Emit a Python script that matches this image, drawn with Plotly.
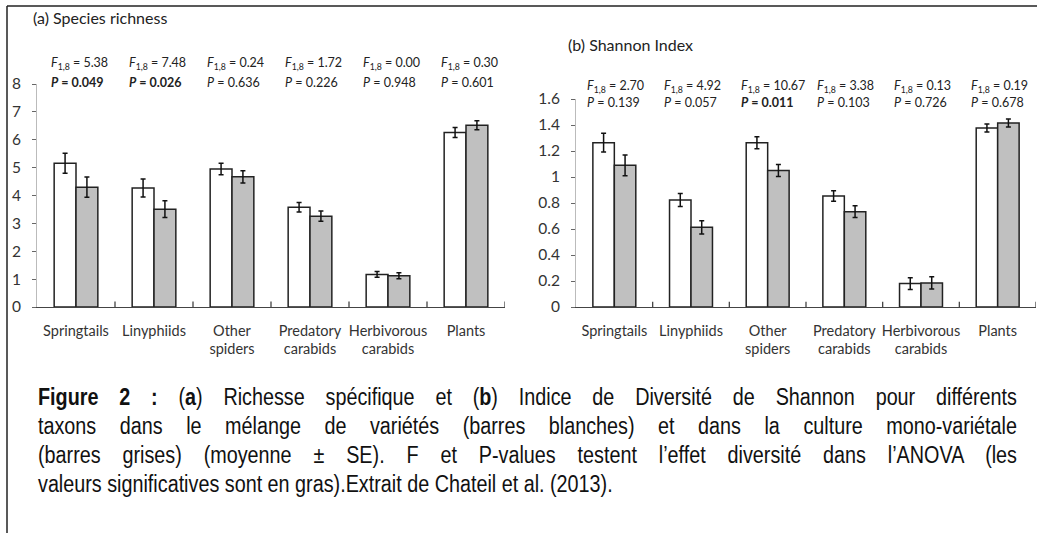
import plotly.graph_objects as go

categories = ["Springtails", "Linyphiids", "Other<br>spiders", "Predatory<br>carabids",
              "Herbivorous<br>carabids", "Plants"]

rich_mix = [5.16, 4.27, 4.95, 3.58, 1.17, 6.26]
rich_mix_se = [0.36, 0.32, 0.21, 0.17, 0.10, 0.18]
rich_mono = [4.30, 3.51, 4.67, 3.26, 1.12, 6.52]
rich_mono_se = [0.36, 0.30, 0.22, 0.18, 0.11, 0.16]

shan_mix = [1.264, 0.823, 1.264, 0.854, 0.180, 1.377]
shan_mix_se = [0.072, 0.050, 0.046, 0.041, 0.045, 0.031]
shan_mono = [1.090, 0.613, 1.050, 0.733, 0.185, 1.415]
shan_mono_se = [0.080, 0.051, 0.046, 0.045, 0.047, 0.031]

rich_F = ["5.38", "7.48", "0.24", "1.72", "0.00", "0.30"]
rich_P = ["0.049", "0.026", "0.636", "0.226", "0.948", "0.601"]
rich_sig = [True, True, False, False, False, False]
shan_F = ["2.70", "4.92", "10.67", "3.38", "0.13", "0.19"]
shan_P = ["0.139", "0.057", "0.011", "0.103", "0.726", "0.678"]
shan_sig = [False, False, True, False, False, False]

rich_ticks = [0, 1, 2, 3, 4, 5, 6, 7, 8]
shan_ticks = [0, 0.2, 0.4, 0.6, 0.8, 1.0, 1.2, 1.4, 1.6]
shan_ticktext = ["0", "0.2", "0.4", "0.6", "0.8", "1", "1.2", "1.4", "1.6"]

caption_lines = [
    "<b>Figure 2 :</b> (<b>a</b>) Richesse spécifique et (<b>b</b>) Indice de Diversité de Shannon pour différents",
    "taxons dans le mélange de variétés (barres blanches) et dans la culture mono-variétale",
    "(barres grises) (moyenne ± SE). F et P-values testent l’effet diversité dans l’ANOVA (les",
    "valeurs significatives sont en gras).Extrait de Chateil et al. (2013).",
]
caption_justified = [True, True, True, False]

W, H = 1037, 533
FONT = "Lato, Open Sans, sans-serif"
CAPFONT = "Liberation Sans Narrow, Arial Narrow, Liberation Sans, Arial, sans-serif"
xidx = list(range(len(categories)))

fig = go.Figure()


def add_bars(vals, se, fill, xa, ya):
    fig.add_trace(go.Bar(
        x=xidx, y=vals, xaxis=xa, yaxis=ya,
        marker=dict(color=fill, line=dict(color="#222222", width=1.5)),
        error_y=dict(type="data", array=se, color="#111111", thickness=1.5, width=2.5),
        showlegend=False, hoverinfo="skip",
    ))


add_bars(rich_mix, rich_mix_se, "white", "x", "y")
add_bars(rich_mono, rich_mono_se, "#c0c0c0", "x", "y")
add_bars(shan_mix, shan_mix_se, "white", "x2", "y2")
add_bars(shan_mono, shan_mono_se, "#c0c0c0", "x2", "y2")


def px_y(py):
    return 1 - py / H


def px_x(px):
    return px / W


xcommon = dict(
    tickmode="array", tickvals=xidx, ticktext=categories,
    range=[-0.5, len(categories) - 0.5],
    showline=True, linecolor="#444444", linewidth=1.3,
    ticks="", showgrid=False, zeroline=False, automargin=False,
    tickfont=dict(family=FONT, size=14.5, color="#333333"),
    ticklabelstandoff=10,
)
ycommon = dict(
    ticks="outside", ticklen=4, tickcolor="#666666",
    showline=True, linecolor="#bbbbbb", linewidth=1, showgrid=False, zeroline=False,
    automargin=False,
    tickfont=dict(family=FONT, size=15.5, color="#333333"), ticklabelstandoff=8,
)
fig.update_layout(
    width=W, height=H,
    margin=dict(l=0, r=0, t=0, b=0, autoexpand=False),
    paper_bgcolor="white", plot_bgcolor="white",
    barmode="group", bargap=0.44, bargroupgap=0,
    xaxis=dict(domain=[px_x(37), px_x(505)], anchor="y", **xcommon),
    xaxis2=dict(domain=[px_x(576), px_x(1036)], anchor="y2", **xcommon),
    yaxis=dict(domain=[px_y(307), px_y(84)], range=[0, 8], anchor="x",
               tickvals=rich_ticks, **ycommon),
    yaxis2=dict(domain=[px_y(307), px_y(99)], range=[0, 1.6], anchor="x2",
                tickvals=shan_ticks, ticktext=shan_ticktext, **ycommon),
)

# category separator ticks on the x axes
for xa, ya in (("x", "y"), ("x2", "y2")):
    for i in range(1, len(categories) + 1):
        fig.add_shape(type="line", xref=xa, yref=ya + " domain",
                      x0=i - 0.5, x1=i - 0.5, y0=0, y1=0.025,
                      line=dict(color="#444444", width=1.3))

ann = []
ann.append(dict(text="(a) Species richness", x=px_x(31), y=px_y(17), xref="paper", yref="paper",
                xanchor="left", yanchor="middle", showarrow=False,
                font=dict(family=FONT, size=16, color="#222222")))
ann.append(dict(text="(b) Shannon Index", x=px_x(566), y=px_y(45), xref="paper", yref="paper",
                xanchor="left", yanchor="middle", showarrow=False,
                font=dict(family=FONT, size=16, color="#222222")))


def stats(Fs, Ps, sig, xa, off, yF, yP):
    for i in range(len(Fs)):
        ann.append(dict(text="<i>F</i><sub>1,8</sub> = " + Fs[i], x=i - 0.5 + off, y=px_y(yF),
                        xref=xa, yref="paper", xanchor="left", yanchor="middle",
                        showarrow=False, font=dict(family=FONT, size=12.5, color="#222222")))
        t = "<i>P</i> = " + Ps[i]
        if sig[i]:
            t = "<b>" + t + "</b>"
        ann.append(dict(text=t, x=i - 0.5 + off, y=px_y(yP),
                        xref=xa, yref="paper", xanchor="left", yanchor="middle",
                        showarrow=False, font=dict(family=FONT, size=12.5, color="#222222")))


stats(rich_F, rich_P, rich_sig, "x", 0.15, 63, 83)
stats(shan_F, shan_P, shan_sig, "x2", 0.12, 87, 102)

cap_y = [397, 426, 455, 484]
cap_idx = []
cap_just = []
for line, yy, j in zip(caption_lines, cap_y, caption_justified):
    cap_idx.append(len(ann))
    cap_just.append(1 if j else 0)
    ann.append(dict(text=line, x=px_x(38), y=px_y(yy), xref="paper", yref="paper",
                    xanchor="left", yanchor="middle", showarrow=False,
                    font=dict(family=CAPFONT, size=23, color="#111111")))

fig.update_layout(annotations=ann)

fig.add_shape(type="line", xref="paper", yref="paper", x0=px_x(7), x1=1, y0=px_y(6), y1=px_y(6),
              line=dict(color="#222222", width=1.5))
fig.add_shape(type="line", xref="paper", yref="paper", x0=px_x(7), x1=px_x(7), y0=px_y(6), y1=0,
              line=dict(color="#222222", width=1.5))

post = """
document.body.style.margin = '0';
document.body.style.overflow = 'hidden';
var gd = document.getElementById('{plot_id}');
var idx = %s, just = %s, SX = 0.86, LEFT = 38, WIDTH = 979;
idx.forEach(function(i, k) {
  var t = gd.querySelector('g.annotation[data-index="' + i + '"] text.annotation-text');
  if (!t) return;
  var gr = gd.getBoundingClientRect();
  t.setAttribute('text-anchor', 'start');
  t.setAttribute('transform', 'scale(' + SX + ',1)');
  if (just[k]) {
    var w = t.getBoundingClientRect().width;
    var n = (t.textContent.match(/ /g) || []).length;
    if (n > 0) t.style.wordSpacing = ((WIDTH - w) / n / SX) + 'px';
    var w2 = t.getBoundingClientRect().width;
    if (Math.abs(w2 - WIDTH) > 6) {
      t.style.wordSpacing = '';
      t.setAttribute('textLength', WIDTH / SX);
      t.setAttribute('lengthAdjust', 'spacing');
    }
  }
  var r = t.getBoundingClientRect();
  var dx = (gr.left + LEFT) - r.left;
  t.setAttribute('transform', 'translate(' + dx + ',0) scale(' + SX + ',1)');
});
""" % (str(cap_idx), str(cap_just))

fig.write_html("out.html", post_script=post, config={"displayModeBar": False})
